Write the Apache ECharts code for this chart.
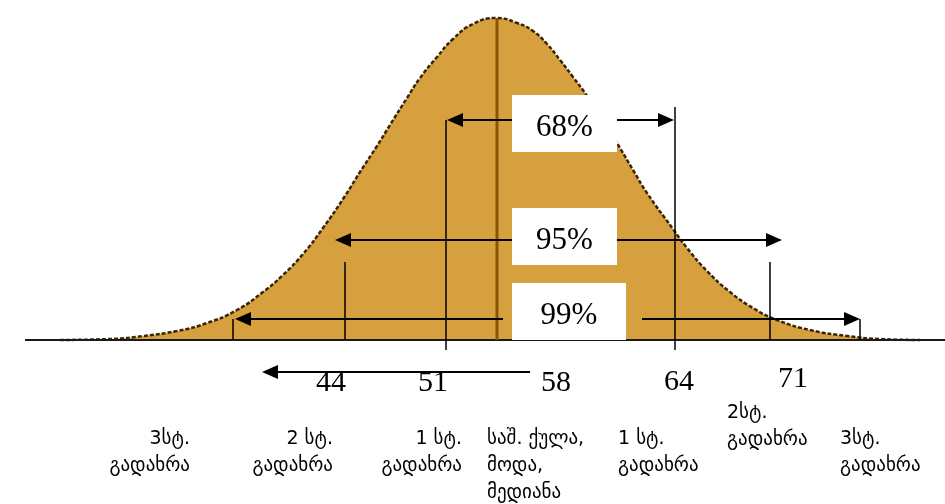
<!DOCTYPE html>
<html>
<head>
<meta charset="utf-8">
<script src="https://cdn.jsdelivr.net/npm/echarts@6/dist/echarts.min.js"></script>
<style>
  html, body { margin: 0; padding: 0; background: #fff; }
  #chart { width: 945px; height: 504px; }
</style>
</head>
<body>
<div id="chart"></div>
<script>
// curve: position along the axis / height above baseline
const curveX = [60, 110, 143, 177, 207, 237, 263, 283, 303, 323, 345, 360, 377, 390, 407, 420, 437, 453, 473, 497,
  517, 533, 547, 560, 573, 587, 605, 620, 633, 647, 673, 687, 707, 730, 753, 777, 810, 847, 880, 920];
const curveY = [0, 1, 4, 9, 17, 30, 48, 65, 86, 112, 144, 168, 194, 215, 242, 262, 283, 301, 316, 322,
  317, 309, 296, 280, 263, 244, 216, 192, 170, 147, 111, 92, 69, 48, 32, 20, 10, 4, 1, 0];

const baseline = [[25, 0], [945, 0]];
const meanLine = [[497, 0], [497, 322]];

// vertical marker lines
const markerX = [233, 345, 446, 675, 770, 860];
const markerBottom = [0, 0, -10, -10, 0, 0];
const markerTop = [21, 78, 220, 233, 78, 21];

// arrows: start and arrowhead centre
const arrowFrom = [[512, 220], [617, 220], [512, 100], [617, 100], [503, 21], [642, 21], [530, -32]];
const arrowTo = [[455, 220], [666, 220], [343, 100], [774, 100], [243, 21], [852, 21], [270, -32]];

// percentage boxes
const boxNames = ["68%", "95%", "99%"];
const boxLeft = [512, 512, 512];
const boxRight = [617, 617, 626];
const boxTop = [245, 132, 57];
const boxBottom = [188, 75, 0];

// number labels under the baseline
const tickText = ["44", "51", "58", "64", "71"];
const tickX = [331, 433, 556, 679, 793];
const tickY = [-43, -43, -43, -42, -39];

// georgian captions
const captionText = [
  "3სტ.\nგადახრა",
  "2 სტ.\nგადახრა",
  "1 სტ.\nგადახრა",
  "საშ. ქულა,\nმოდა,\nმედიანა",
  "1 სტ.\nგადახრა",
  "2სტ.\nგადახრა",
  "3სტ.\nგადახრა",
];
const captionX = [190, 333, 462, 487, 618, 727, 840];
const captionY = [-113, -113, -113, -126, -113, -87, -113];
const captionAlign = ["right", "right", "right", "left", "left", "left", "left"];

const chart = echarts.init(document.getElementById("chart"));

const serif = "'Liberation Serif', 'DejaVu Serif', serif";
const georgianFont = "'DejaVu Sans', sans-serif";

const option = {
  animation: false,
  grid: { left: 0, right: 0, top: 0, bottom: 0 },
  xAxis: { type: "value", min: 0, max: 945, show: false },
  yAxis: { type: "value", min: -164, max: 340, show: false },
  series: [
    {
      type: "line",
      z: 1,
      data: curveX.map((x, i) => [x, curveY[i]]),
      smooth: 0.5,
      showSymbol: false,
      lineStyle: { color: "#3b2406", width: 2.5, type: [4, 2] },
      areaStyle: { color: "#d5a03d", opacity: 1 },
    },
    {
      type: "line",
      z: 2,
      data: baseline,
      showSymbol: false,
      lineStyle: { color: "#1a1a1a", width: 2 },
    },
    {
      type: "line",
      z: 3,
      data: meanLine,
      showSymbol: false,
      lineStyle: { color: "#8a5300", width: 3 },
    },
    {
      type: "line",
      z: 4,
      data: [],
      markLine: {
        silent: true,
        symbol: ["none", "none"],
        label: { show: false },
        lineStyle: { color: "#000", width: 1.5, type: "solid" },
        data: markerX.map((x, i) => [{ coord: [x, markerBottom[i]] }, { coord: [x, markerTop[i]] }]),
      },
    },
    {
      type: "line",
      z: 5,
      data: [],
      markLine: {
        silent: true,
        symbol: ["none", "triangle"],
        symbolSize: [14, 16],
        label: { show: false },
        lineStyle: { color: "#000", width: 2, type: "solid" },
        data: arrowFrom.map((p, i) => [{ coord: p }, { coord: arrowTo[i] }]),
      },
    },
    {
      type: "line",
      z: 6,
      data: [],
      markArea: {
        silent: true,
        z: 10,
        itemStyle: { color: "#fff", opacity: 1 },
        label: {
          show: true,
          position: "inside",
          offset: [0, 4],
          color: "#000",
          textBorderWidth: 0,
          fontFamily: serif,
          fontSize: 31,
        },
        data: boxNames.map((name, i) => [
          { name, coord: [boxLeft[i], boxTop[i]] },
          { coord: [boxRight[i], boxBottom[i]] },
        ]),
      },
    },
    {
      type: "scatter",
      z: 7,
      symbolSize: 0,
      itemStyle: { opacity: 1 },
      data: tickText.map((t, i) => ({ value: [tickX[i], tickY[i]], name: t })),
      label: {
        show: true,
        position: "inside",
        formatter: (p) => p.name,
        color: "#000",
        textBorderWidth: 0,
        fontFamily: serif,
        fontSize: 30,
      },
    },
    {
      type: "scatter",
      z: 7,
      symbolSize: 0,
      itemStyle: { opacity: 1 },
      data: captionText.map((t, i) => ({
        value: [captionX[i], captionY[i]],
        name: t,
        label: { align: captionAlign[i] },
      })),
      label: {
        show: true,
        position: "inside",
        formatter: (p) => p.name,
        color: "#000",
        textBorderWidth: 0,
        fontFamily: georgianFont,
        fontSize: 19,
        lineHeight: 27,
        verticalAlign: "middle",
      },
    },
  ],
};

chart.setOption(option);
</script>
</body>
</html>
